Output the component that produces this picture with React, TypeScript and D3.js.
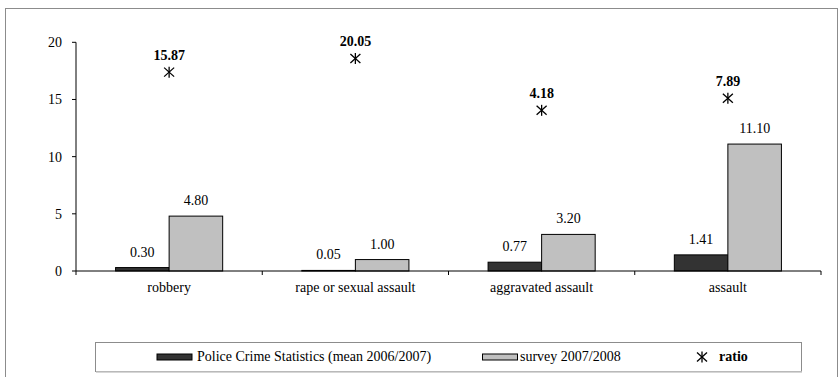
import React from "react";
import * as d3 from "d3";

const categories = ["robbery", "rape or sexual assault", "aggravated assault", "assault"];
const policeValues = [0.3, 0.05, 0.77, 1.41];
const surveyValues = [4.8, 1.0, 3.2, 11.1];
const ratioValues = [15.87, 20.05, 4.18, 7.89];
const yTicks = [0, 5, 10, 15, 20];
const seriesNames = ["Police Crime Statistics (mean 2006/2007)", "survey 2007/2008", "ratio"];

const W = 840;
const H = 377;
const margin = { top: 42.3, left: 76, right: 19, bottom: 106 };
const font = "'Liberation Serif', 'Times New Roman', serif";

const Asterisk = ({ x, y }: { x: number; y: number }) => (
  <g transform={"translate(" + x + "," + y + ")"} stroke="#000" strokeWidth={1.3}>
    <line x1={-5} y1={-4.5} x2={5} y2={4.5} />
    <line x1={-5} y1={4.5} x2={5} y2={-4.5} />
    <line x1={0} y1={-5.5} x2={0} y2={5.5} />
  </g>
);

export default function App() {
  const x = d3
    .scaleBand()
    .domain(categories)
    .range([margin.left, W - margin.right]);
  const y = d3
    .scaleLinear()
    .domain([0, 20])
    .range([H - margin.bottom, margin.top]);
  // hidden secondary axis for the ratio markers
  const y2 = d3
    .scaleLinear()
    .domain([-45, 25])
    .range([H - margin.bottom, margin.top]);
  const bw = x.bandwidth() * 0.2875;
  const x0 = margin.left;
  const x1 = W - margin.right;
  const y0 = y(0);

  return (
    <svg
      width={W}
      height={H}
      style={{ position: "absolute", left: 0, top: 0, background: "#fff" }}
      fontFamily={font}
      fontSize={14}
    >
      <rect x={5.5} y={8.5} width={832} height={380} fill="#fff" stroke="#8c8c8c" />

      {/* y axis */}
      <line x1={x0} y1={y(20)} x2={x0} y2={y0} stroke="#000" />
      {yTicks.map((t) => (
        <g key={t}>
          <line x1={x0 - 4} x2={x0} y1={y(t)} y2={y(t)} stroke="#000" />
          <text x={x0 - 14} y={y(t)} dy="0.35em" textAnchor="end">
            {t}
          </text>
        </g>
      ))}

      {/* bars */}
      {categories.map((c, i) => {
        const cx = (x(c) as number) + x.bandwidth() / 2;
        return (
          <g key={c}>
            <rect
              x={cx - bw}
              y={y(policeValues[i])}
              width={bw}
              height={y0 - y(policeValues[i])}
              fill="#333333"
              stroke="#000"
              strokeWidth={1}
            />
            <rect
              x={cx}
              y={y(surveyValues[i])}
              width={bw}
              height={y0 - y(surveyValues[i])}
              fill="#c0c0c0"
              stroke="#000"
              strokeWidth={1}
            />
            <text x={cx - bw / 2} y={y(policeValues[i]) - 11} textAnchor="middle">
              {policeValues[i].toFixed(2)}
            </text>
            <text x={cx + bw / 2} y={y(surveyValues[i]) - 11} textAnchor="middle">
              {surveyValues[i].toFixed(2)}
            </text>
            <Asterisk x={cx} y={y2(ratioValues[i])} />
            <text x={cx} y={y2(ratioValues[i]) - 12} textAnchor="middle" fontWeight="bold">
              {ratioValues[i].toFixed(2)}
            </text>
            <text x={cx} y={y0 + 21} textAnchor="middle">
              {c}
            </text>
          </g>
        );
      })}

      {/* x axis */}
      <line x1={x0} y1={y0} x2={x1} y2={y0} stroke="#000" />
      {categories.map((c) => (
        <line key={c} x1={x(c)} x2={x(c)} y1={y0} y2={y0 + 4} stroke="#000" />
      ))}
      <line x1={x1} x2={x1} y1={y0} y2={y0 + 4} stroke="#000" />

      {/* legend */}
      <rect x={95.5} y={342.5} width={706} height={29} fill="#fff" stroke="#8c8c8c" />
      <line x1={96} x2={802} y1={372} y2={372} stroke="#c8c8c8" strokeWidth={1.5} />
      <rect x={157} y={354} width={35} height={6} fill="#333333" stroke="#000" />
      <text x={197} y={361}>{seriesNames[0]}</text>
      <rect x={482.5} y={354} width={35} height={6} fill="#c0c0c0" stroke="#000" />
      <text x={520} y={361}>{seriesNames[1]}</text>
      <Asterisk x={702} y={357} />
      <text x={719} y={361} fontWeight="bold">
        {seriesNames[2]}
      </text>
    </svg>
  );
}
